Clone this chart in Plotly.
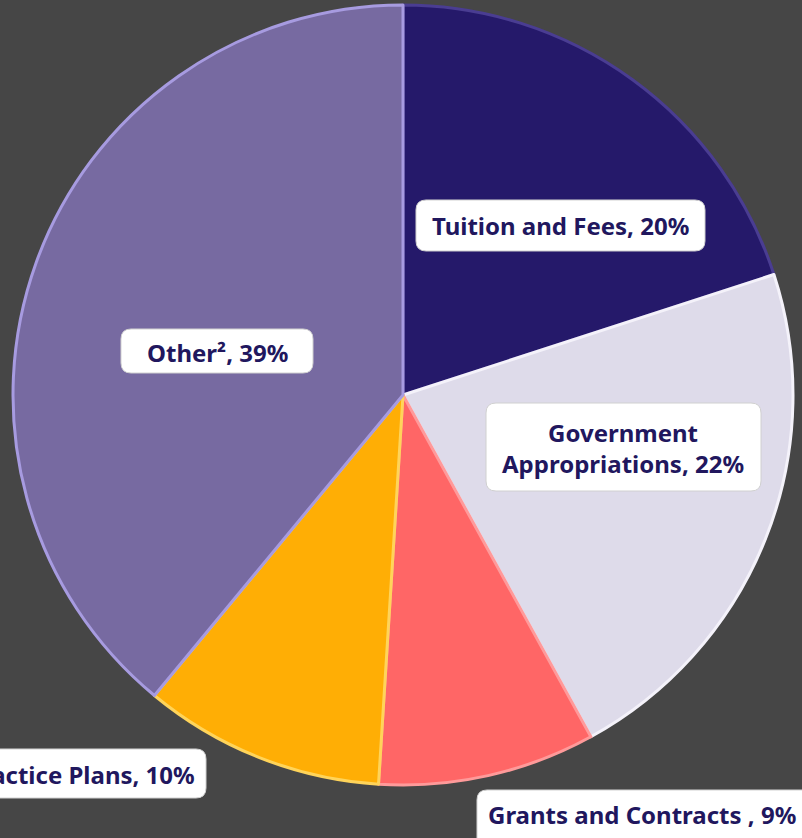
import plotly.graph_objects as go

categories = ["Tuition and Fees", "Government Appropriations", "Grants and Contracts ", "Practice Plans", "Other²"]
values = [20, 22, 9, 10, 39]
colors = ["#25196a", "#dedbea", "#ff6666", "#ffae05", "#776aa1"]
edge_colors = ["#4a3d92", "#f4f2fa", "#ff9a9a", "#ffd45a", "#a79be0"]
label_texts = ["Tuition and Fees, 20%", "Government<br>Appropriations, 22%",
               "Grants and Contracts , 9%", "Practice Plans, 10%", "Other², 39%"]

W, H = 802, 838

fig = go.Figure(go.Pie(
    labels=categories, values=values, sort=False, direction="clockwise", rotation=0,
    marker=dict(colors=colors, line=dict(color=edge_colors, width=3)),
    textinfo="none", hoverinfo="label+percent", showlegend=False,
    domain=dict(x=[13 / W, 793 / W], y=[1 - 785 / H, 1 - 5 / H]),
))

def px2paper(x, y):
    return x / W, 1 - y / H

def rrect(x0, y0, x1, y1, r=10):
    def P(x, y):
        px, py = px2paper(x, y)
        return f"{px:.5f},{py:.5f}"
    path = (f"M {P(x0 + r, y0)} L {P(x1 - r, y0)} Q {P(x1, y0)} {P(x1, y0 + r)} "
            f"L {P(x1, y1 - r)} Q {P(x1, y1)} {P(x1 - r, y1)} "
            f"L {P(x0 + r, y1)} Q {P(x0, y1)} {P(x0, y1 - r)} "
            f"L {P(x0, y0 + r)} Q {P(x0, y0)} {P(x0 + r, y0)} Z")
    return dict(type="path", xref="paper", yref="paper", path=path,
                fillcolor="white", line=dict(color="#d0d0d0", width=1), layer="above")

# label boxes (pixel placement) and text anchors
boxes = [
    (416, 200, 705, 251),
    (486, 403, 761, 491),
    (477, 790, 812, 848),
    (-20, 749, 206, 798),
    (121, 329, 313, 373),
]
text_pos = [
    (560, 226, "center"),
    (623, 448, "center"),
    (798, 814, "right"),
    (197, 774, "right"),
    (217, 352, "center"),
]

shapes = [rrect(*b) for b in boxes]
annotations = []
for t, (x, y, al) in zip(label_texts, text_pos):
    px, py = px2paper(x, y)
    annotations.append(dict(
        x=px, y=py, xref="paper", yref="paper", text=f"<b>{t}</b>", showarrow=False,
        xanchor=al, yanchor="middle", align="center",
        font=dict(family="Noto Sans, Open Sans, sans-serif", size=24, color="#21175e"),
    ))

fig.update_layout(
    width=W, height=H, margin=dict(l=0, r=0, t=0, b=0),
    paper_bgcolor="#464646", plot_bgcolor="#464646",
    shapes=shapes, annotations=annotations,
)

fig.write_html("out.html", config={"displayModeBar": False},
               post_script="document.body.style.margin='0';document.body.style.background='#464646';")
